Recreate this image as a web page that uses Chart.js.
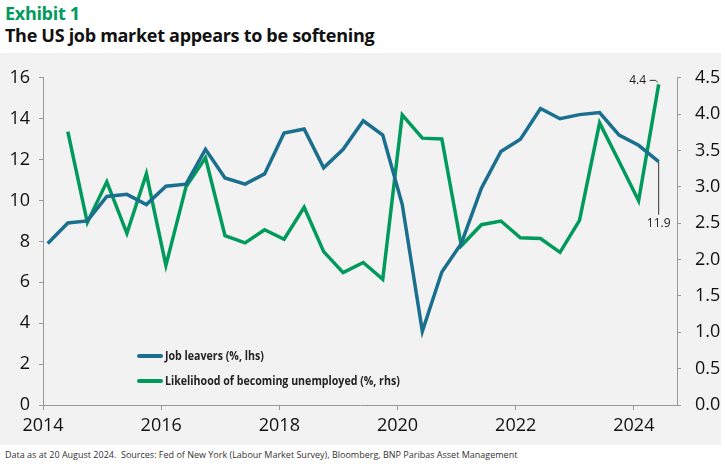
<!DOCTYPE html>
<html>
<head>
<meta charset="utf-8">
<script src="https://cdn.jsdelivr.net/npm/chart.js@4.4.1/dist/chart.umd.min.js"></script>
<style>
  body { margin: 0; width: 725px; height: 464px; background: #fff; position: relative; overflow: hidden; font-family: 'Open Sans', sans-serif; }
  .exhibit { position: absolute; left: 5px; top: 1px; font-size: 18px; font-weight: 700; color: #009a5c; letter-spacing: -0.3px; }
  .title { position: absolute; left: 5px; top: 23px; font-size: 18px; font-weight: 700; color: #111; letter-spacing: -0.3px; }
  .panel { position: absolute; left: 0; top: 53px; width: 721px; height: 392px; background: #f2f2f2; }
  .legend { position: absolute; left: 137px; top: 348px; font-size: 12.5px; font-weight: 700; color: #222; }
  .legend div { display: flex; align-items: center; height: 15px; margin-bottom: 10px; }
  .legend span { display: inline-block; width: 26px; height: 4px; margin-right: 2px; border-radius: 2px; }
  .legend em { font-style: normal; display: inline-block; transform: scaleX(0.85); transform-origin: left center; white-space: nowrap; }
  .footer { position: absolute; left: 5px; top: 448px; font-size: 9px; color: #333; }
</style>
</head>
<body>
<div class="exhibit">Exhibit 1</div>
<div class="title">The US job market appears to be softening</div>
<div class="panel"><canvas id="chart"></canvas></div>
<div class="legend">
  <div><span style="background:#1a6f8e"></span><em>Job leavers (%, lhs)</em></div>
  <div><span style="background:#009a5c"></span><em>Likelihood of becoming unemployed (%, rhs)</em></div>
</div>
<div class="footer">Data as at 20 August 2024.&nbsp; Sources: Fed of New York (Labour Market Survey), Bloomberg, BNP Paribas Asset Management</div>
<script>
const surveyDates = [2014.08, 2014.42, 2014.75, 2015.08, 2015.42, 2015.75, 2016.08, 2016.42, 2016.75, 2017.08,
  2017.42, 2017.75, 2018.08, 2018.42, 2018.75, 2019.08, 2019.42, 2019.75, 2020.08, 2020.42,
  2020.75, 2021.08, 2021.42, 2021.75, 2022.08, 2022.42, 2022.75, 2023.08, 2023.42, 2023.75,
  2024.08, 2024.42];
const jobLeavers = [7.9, 8.9, 9.0, 10.2, 10.3, 9.8, 10.7, 10.8, 12.5, 11.1,
  10.8, 11.3, 13.3, 13.5, 11.6, 12.5, 13.9, 13.2, 9.8, 3.6,
  6.5, 7.9, 10.6, 12.4, 13.0, 14.5, 14.0, 14.2, 14.3, 13.2,
  12.7, 11.9];
const unemployLikelihood = [null, 3.76, 2.51, 3.07, 2.36, 3.18, 1.92, 3.0, 3.40, 2.33,
  2.23, 2.41, 2.28, 2.72, 2.11, 1.82, 1.96, 1.73, 3.99, 3.67,
  3.66, 2.19, 2.48, 2.53, 2.30, 2.29, 2.10, 2.54, 3.88, 3.35,
  2.81, 4.41];
const yearTicks = [2014, 2016, 2018, 2020, 2022, 2024];
const leftTicks = [0, 1, 2, 3, 4, 5, 6, 7, 8, 9, 10, 11, 12, 13, 14, 15, 16];
const rightTicks = [0, 0.5, 1, 1.5, 2, 2.5, 3, 3.5, 4, 4.5];

const BLUE = '#1a6f8e';
const GREEN = '#009a5c';
const tickFont = { family: "'Open Sans', sans-serif", size: 18 };

// end-of-series labels (4.4 and 11.9)
const endLabels = {
  id: 'endLabels',
  afterDatasetsDraw(chart) {
    const { ctx, scales } = chart;
    const last = surveyDates.length - 1;
    const x = scales.x.getPixelForValue(surveyDates[last]);
    const yBlue = scales.y.getPixelForValue(jobLeavers[last]);
    const yGreen = scales.y1.getPixelForValue(unemployLikelihood[last]);
    ctx.save();
    ctx.strokeStyle = '#333';
    ctx.lineWidth = 1;
    ctx.beginPath();
    ctx.moveTo(x, yBlue);
    ctx.lineTo(x, yBlue + 53);
    ctx.moveTo(x - 9, yGreen - 4);
    ctx.lineTo(x - 3, yGreen - 4);
    ctx.lineTo(x - 1, yGreen - 2);
    ctx.stroke();
    ctx.fillStyle = '#222';
    ctx.font = "12px 'Open Sans', sans-serif";
    ctx.textAlign = 'center';
    ctx.textBaseline = 'middle';
    ctx.fillText(unemployLikelihood[last].toFixed(1), x - 21, yGreen - 4);
    ctx.fillText(jobLeavers[last].toFixed(1), x, yBlue + 62);
    ctx.restore();
  }
};

new Chart(document.getElementById('chart'), {
  type: 'line',
  data: {
    datasets: [
      {
        label: 'Job leavers (%, lhs)',
        data: surveyDates.map((d, i) => ({ x: d, y: jobLeavers[i] })),
        borderColor: BLUE,
        borderWidth: 3.5,
        pointRadius: 0,
        tension: 0,
        yAxisID: 'y'
      },
      {
        label: 'Likelihood of becoming unemployed (%, rhs)',
        data: surveyDates.map((d, i) => ({ x: d, y: unemployLikelihood[i] })),
        borderColor: GREEN,
        borderWidth: 3.5,
        pointRadius: 0,
        tension: 0,
        spanGaps: false,
        yAxisID: 'y1'
      }
    ]
  },
  options: {
    responsive: true,
    maintainAspectRatio: false,
    animation: false,
    layout: { padding: { top: 23, left: 0, right: 0, bottom: 0 } },
    plugins: { legend: { display: false }, tooltip: { enabled: false } },
    scales: {
      x: {
        type: 'linear',
        min: 2014,
        max: 2024.73,
        afterBuildTicks: (scale) => { scale.ticks = yearTicks.map(v => ({ value: v })); },
        afterFit: (scale) => { scale.height = 40; },
        border: { color: '#999', width: 1 },
        grid: { drawOnChartArea: false, drawTicks: true, tickLength: 5, color: '#999' },
        ticks: { font: tickFont, color: '#111', padding: 5, maxRotation: 0, callback: v => String(v) }
      },
      y: {
        position: 'left',
        min: 0,
        max: 16,
        afterBuildTicks: (scale) => { scale.ticks = leftTicks.map(v => ({ value: v })); },
        afterFit: (scale) => { scale.width = 43; },
        border: { color: '#999', width: 1 },
        grid: { drawOnChartArea: false, drawTicks: true, tickLength: 4, color: '#999' },
        ticks: { font: tickFont, color: '#111', padding: 9, callback: v => (v % 2 === 0 ? String(v) : '') }
      },
      y1: {
        position: 'right',
        min: 0,
        max: 4.5,
        afterBuildTicks: (scale) => { scale.ticks = rightTicks.map(v => ({ value: v })); },
        afterFit: (scale) => { scale.width = 44; },
        border: { color: '#999', width: 1 },
        grid: { drawOnChartArea: false, drawTicks: true, tickLength: 4, color: '#999' },
        ticks: { font: tickFont, color: '#111', padding: 14, callback: v => v.toFixed(1) }
      }
    }
  },
  plugins: [endLabels]
});
</script>
</body>
</html>
